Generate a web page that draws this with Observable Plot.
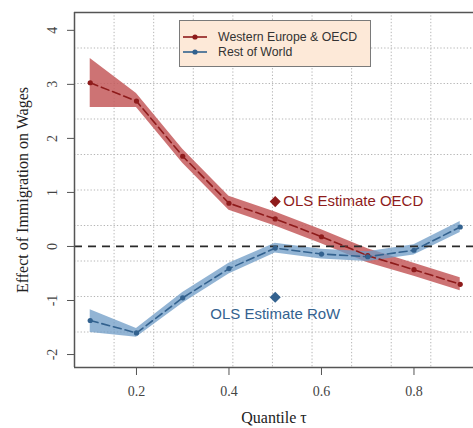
<!DOCTYPE html>
<html>
<head>
<meta charset="utf-8">
<script src="https://cdn.jsdelivr.net/npm/d3@7"></script>
<script src="https://cdn.jsdelivr.net/npm/@observablehq/plot@0.6"></script>
<style>
  body { margin: 0; background: #fff; }
  #wrap { position: relative; width: 473px; height: 428px; overflow: hidden; }
  #legend { position: absolute; left: 179px; top: 20px; width: 190px; height: 45px;
    background: #fde9d8; border: 1.5px solid #7a7a7a; font-family: "Liberation Sans", Arial, sans-serif;
    font-size: 12.3px; color: #333; }
  .row { position: absolute; left: 3px; height: 15px; display: flex; align-items: center; }
  .row span { margin-left: 11px; }
</style>
</head>
<body>
<div id="wrap"></div>
<script>
// ---- data ----
const quantiles = [0.1, 0.2, 0.3, 0.4, 0.5, 0.6, 0.7, 0.8, 0.9];
const oecd   = [3.03, 2.69, 1.67, 0.80, 0.51, 0.18, -0.17, -0.43, -0.70];
const oecdLo = [2.57, 2.57, 1.54, 0.67, 0.38, 0.05, -0.30, -0.55, -0.82];
const oecdHi = [3.48, 2.83, 1.80, 0.93, 0.64, 0.31, -0.04, -0.31, -0.58];
const row    = [-1.37, -1.60, -0.95, -0.41, -0.03, -0.14, -0.19, -0.07, 0.36];
const rowLo  = [-1.59, -1.68, -1.05, -0.51, -0.12, -0.23, -0.28, -0.16, 0.26];
const rowHi  = [-1.17, -1.52, -0.85, -0.31, 0.06, -0.05, -0.10, 0.03, 0.46];
const olsQuantile = [0.5];
const olsOECD = [0.83];
const olsRoW = [-0.94];
const seriesNames = ["Western Europe & OECD", "Rest of World"];
const xTicks = [0.2, 0.4, 0.6, 0.8];
const yTicks = [-2, -1, 0, 1, 2, 3, 4];

const xDomain = [0.066, 0.9287];
const yDomain = [-2.24, 4.33];
const gridRight = 0.922;

const red = "#8e1b1b", redBand = "#c45a5c";
const blue = "#33628f", blueBand = "#6d9bc6";

const toRows = (lo, mid, hi) => quantiles.map((q, i) => ({q, lo: lo[i], y: mid[i], hi: hi[i]}));
const oecdRows = toRows(oecdLo, oecd, oecdHi);
const rowRows = toRows(rowLo, row, rowHi);

const gx = d3.range(1, 10).map(k => xDomain[0] + k * (gridRight - xDomain[0]) / 10);
const gy = d3.range(1, 10).map(k => yDomain[0] + k * (yDomain[1] - yDomain[0]) / 10);

const serif = "Liberation Serif, Times New Roman, serif";
const sans = "Liberation Sans, Arial, sans-serif";

const chart = Plot.plot({
  width: 473, height: 428,
  marginLeft: 74, marginRight: 0, marginTop: 12, marginBottom: 61,
  style: {fontFamily: serif, fontSize: "14px", color: "#444", background: "#fff"},
  x: {domain: xDomain},
  y: {domain: yDomain},
  marks: [
    Plot.ruleX(gx, {stroke: "#b5b5b5", strokeDasharray: "1.3,2", strokeWidth: 1}),
    Plot.ruleY(gy, {stroke: "#b5b5b5", strokeDasharray: "1.3,2", strokeWidth: 1}),
    Plot.areaY(oecdRows, {x: "q", y1: "lo", y2: "hi", fill: redBand, fillOpacity: 0.85}),
    Plot.areaY(rowRows, {x: "q", y1: "lo", y2: "hi", fill: blueBand, fillOpacity: 0.75}),
    Plot.ruleY([0], {stroke: "#2a2a2a", strokeWidth: 1.8, strokeDasharray: "8,6"}),
    Plot.line(oecdRows, {x: "q", y: "y", stroke: red, strokeWidth: 1.6, strokeDasharray: "8,4"}),
    Plot.line(rowRows, {x: "q", y: "y", stroke: blue, strokeWidth: 1.6, strokeDasharray: "8,4"}),
    Plot.dot(oecdRows, {x: "q", y: "y", r: 2.6, fill: red}),
    Plot.dot(rowRows, {x: "q", y: "y", r: 2.6, fill: blue}),
    Plot.dot(olsQuantile, {x: d => d, y: (d, i) => olsOECD[i], symbol: "diamond2", r: 5, fill: red}),
    Plot.dot(olsQuantile, {x: d => d, y: (d, i) => olsRoW[i], symbol: "diamond2", r: 5, fill: blue}),
    Plot.text(olsQuantile, {x: d => d, y: (d, i) => olsOECD[i], text: () => "OLS Estimate OECD",
      textAnchor: "start", dx: 8, fill: red, fontFamily: sans, fontSize: 15}),
    Plot.text(olsQuantile, {x: d => d, y: (d, i) => olsRoW[i], text: () => "OLS Estimate RoW",
      textAnchor: "middle", dy: 17, fill: blue, fontFamily: sans, fontSize: 15}),
    // frame (left, top, bottom)
    Plot.ruleX([xDomain[0]], {stroke: "#555", strokeWidth: 1.5}),
    Plot.ruleY([yDomain[0], yDomain[1]], {stroke: "#555", strokeWidth: 1.5}),
    // axes
    Plot.axisX({ticks: xTicks, tickSize: 8, tickPadding: 11, tickFormat: d => d.toFixed(1),
      stroke: "#555", fill: "#444", fontSize: 14, label: null}),
    Plot.axisY({ticks: yTicks, tickSize: 7, tickFormat: () => "", stroke: "#555", label: null}),
    Plot.text(yTicks, {y: d => d, frameAnchor: "left", dx: -22, rotate: -90, text: d => String(d),
      textAnchor: "middle", lineAnchor: "middle", fill: "#444", fontSize: 14, fontFamily: serif}),
    Plot.text(["Quantile \u03c4"], {frameAnchor: "bottom", dy: 50, textAnchor: "middle", lineAnchor: "middle",
      fill: "#222", fontSize: 16, fontFamily: serif}),
    Plot.text(["Effect of Immigration on Wages"], {frameAnchor: "left", dx: -52, rotate: -90,
      textAnchor: "middle", lineAnchor: "middle", fill: "#222", fontSize: 16, fontFamily: serif})
  ]
});

const wrap = document.getElementById("wrap");
wrap.appendChild(chart);

const legend = document.createElement("div");
legend.id = "legend";
const colors = [red, blue];
seriesNames.forEach((name, i) => {
  const r = document.createElement("div");
  r.className = "row";
  r.style.top = (8 + i * 15) + "px";
  r.innerHTML = `<svg width="24" height="10"><line x1="0" y1="5" x2="24" y2="5" stroke="${colors[i]}" stroke-width="1.6"/><circle cx="12" cy="5" r="2.6" fill="${colors[i]}"/></svg><span>${name}</span>`;
  legend.appendChild(r);
});
wrap.appendChild(legend);
</script>
</body>
</html>
